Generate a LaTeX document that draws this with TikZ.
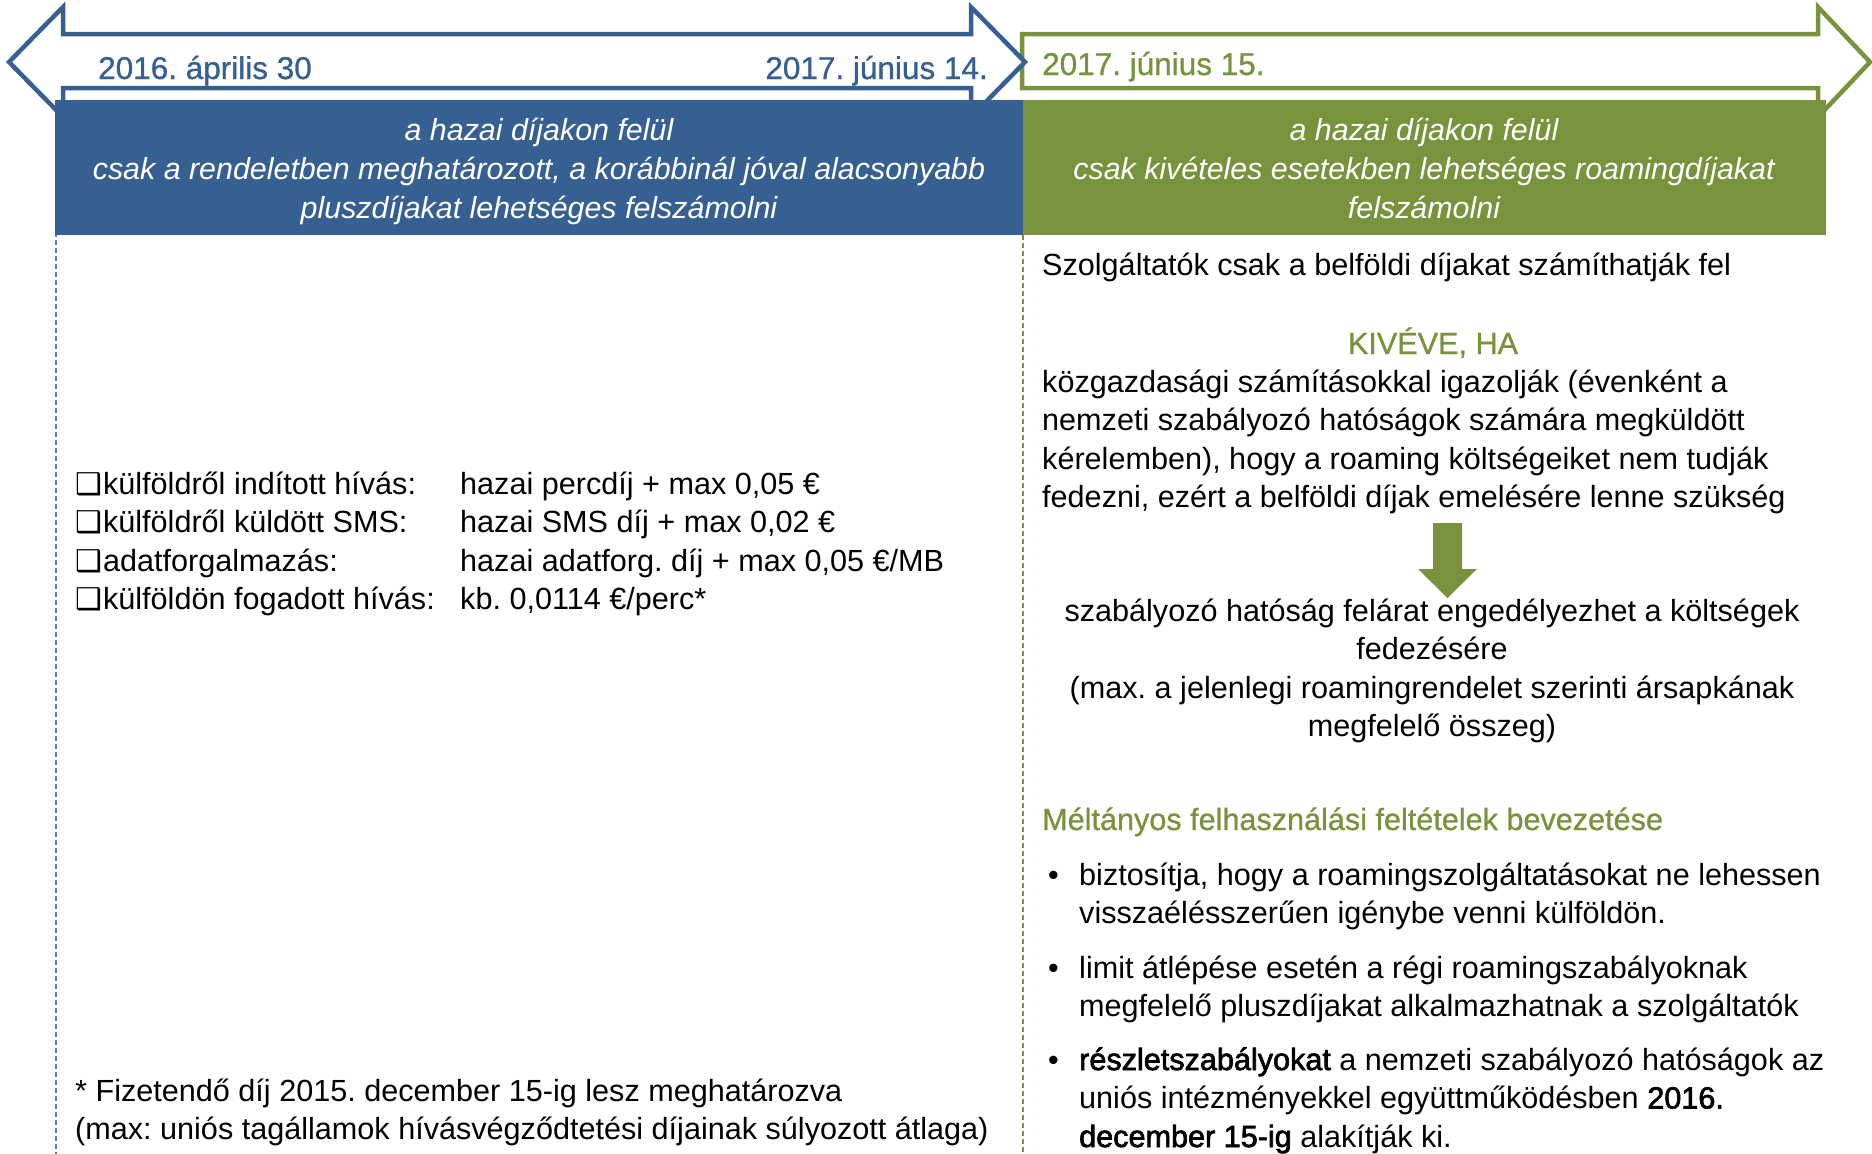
\documentclass[tikz,border=0pt]{standalone}
\usepackage{fontspec}
\setmainfont{Liberation Sans}[BoldFont={Liberation Sans}, BoldFeatures={FakeBold=2.2}]
\newfontfamily\medium{Liberation Sans}[FakeBold=0.9]
\newfontfamily\dejavu{DejaVu Sans}
\definecolor{bblue}{HTML}{376092}
\definecolor{ggreen}{HTML}{77933C}
\definecolor{dblue}{HTML}{4F81BD}
\frenchspacing
\newcommand\Lrows[1]{\vtop{\halign{##\hfil\cr#1\crcr}}}
\newcommand\Crows[1]{\vtop{\halign{\hfil##\hfil\cr#1\crcr}}}
\newcommand\chk{{\dejavu\fontsize{30}{30}\selectfont ❑}\kern1pt}
\begin{document}
\begin{tikzpicture}[x=1pt,y=-1pt,
  body/.style={inner sep=0pt, font=\fontsize{30.6}{38.5}\selectfont},
  txt/.style={body, anchor=base west},
  ctxt/.style={body, anchor=base},
  boxtxt/.style={body, anchor=base, text=white, font=\fontsize{30.4}{39}\selectfont\itshape},
  datetxt/.style={inner sep=0pt, font=\medium\fontsize{31.5}{38}\selectfont},
  head/.style={text=ggreen, font=\medium\fontsize{30.6}{38.5}\selectfont},
  outline/.style={line width=4.5pt, fill=white},
  vline/.style={line width=1.6pt, dash pattern=on 5pt off 3pt},
]
\useasboundingbox (0,0) rectangle (1872,1154);

% dashed guide lines
\coordinate (bt) at (56,80);  \coordinate (bb) at (56,1154);
\coordinate (gt) at (1023,235); \coordinate (gb) at (1023,1154);
\draw[vline, dblue] (bt) -- (bb);
\draw[vline, ggreen] (gt) -- (gb);

% green timeline arrow
\draw[outline, draw=ggreen] (1022,34) -- (1818,34) -- (1818,7) -- (1870,62)
  -- (1818,117) -- (1818,88) -- (1022,88) -- cycle;
% blue double arrow
\draw[outline, draw=bblue] (9,62) -- (63,7) -- (63,34) -- (971,34) -- (971,7)
  -- (1025,62) -- (971,117) -- (971,88) -- (63,88) -- (63,117) -- cycle;

% header boxes
\fill[bblue] (55,100) rectangle (1023,235);
\fill[ggreen] (1023,100) rectangle (1826,235);

% dates
\node[datetxt, text=bblue, anchor=base west] (d1) at (98,79) {2016. április 30};
\node[datetxt, text=bblue, anchor=base east] (d2) at (988,79) {2017. június 14.};
\node[datetxt, text=ggreen, anchor=base west] (d3) at (1042,75) {2017. június 15.};

% box texts
\node[boxtxt] (bx) at (539,140) {\Crows{a hazai díjakon felül\cr
  csak a rendeletben meghatározott, a korábbinál jóval alacsonyabb\cr
  pluszdíjakat lehetséges felszámolni}};
\node[boxtxt] (gx) at (1424,140) {\Crows{a hazai díjakon felül\cr
  csak kivételes esetekben lehetséges roamingdíjakat\cr
  felszámolni}};

% left list
\node[txt] (l1) at (75,494) {\Lrows{\chk külföldről indított hívás:\cr
  \chk külföldről küldött SMS:\cr
  \chk adatforgalmazás:\cr
  \chk külföldön fogadott hívás:}};
\node[txt] (l2) at (460,494) {\Lrows{hazai percdíj + max 0,05 €\cr
  hazai SMS díj + max 0,02 €\cr
  hazai adatforg. díj + max 0,05 €/MB\cr
  kb. 0,0114 €/perc*}};

% footnote
\node[txt] (fn) at (75,1101) {\Lrows{* Fizetendő díj 2015. december 15-ig lesz meghatározva\cr
  (max: uniós tagállamok hívásvégződtetési díjainak súlyozott átlaga)}};

% right column
\node[txt] (r1) at (1042,275) {Szolgáltatók csak a belföldi díjakat számíthatják fel};
\node[ctxt, head] (kh) at (1433,354) {KIVÉVE, HA};
\node[txt] (r2) at (1042,392) {\Lrows{közgazdasági számításokkal igazolják (évenként a\cr
  nemzeti szabályozó hatóságok számára megküldött\cr
  kérelemben), hogy a roaming költségeiket nem tudják\cr
  fedezni, ezért a belföldi díjak emelésére lenne szükség}};
% down arrow
\fill[ggreen] (1433,523) -- (1462,523) -- (1462,569) -- (1477,569) -- (1447.5,598)
  -- (1418,569) -- (1433,569) -- cycle;
\node[ctxt] (r3) at (1432,621) {\Crows{szabályozó hatóság felárat engedélyezhet a költségek\cr
  fedezésére\cr
  (max. a jelenlegi roamingrendelet szerinti ársapkának\cr
  megfelelő összeg)}};
\node[txt, head] (mf) at (1042,830) {Méltányos felhasználási feltételek bevezetése};

\node[txt] (b1) at (1048,885) {•};
\node[txt] (t1) at (1079,885) {\Lrows{biztosítja, hogy a roamingszolgáltatásokat ne lehessen\cr
  visszaélésszerűen igénybe venni külföldön.}};
\node[txt] (b2) at (1048,978) {•};
\node[txt] (t2) at (1079,978) {\Lrows{limit átlépése esetén a régi roamingszabályoknak\cr
  megfelelő pluszdíjakat alkalmazhatnak a szolgáltatók}};
\node[txt] (b3) at (1048,1070) {•};
\node[txt] (t3) at (1079,1070) {\Lrows{\textbf{részletszabályokat} a nemzeti szabályozó hatóságok az\cr
  uniós intézményekkel együttműködésben \textbf{2016.}\cr
  \textbf{december 15-ig} alakítják ki.}};
\end{tikzpicture}
\end{document}
